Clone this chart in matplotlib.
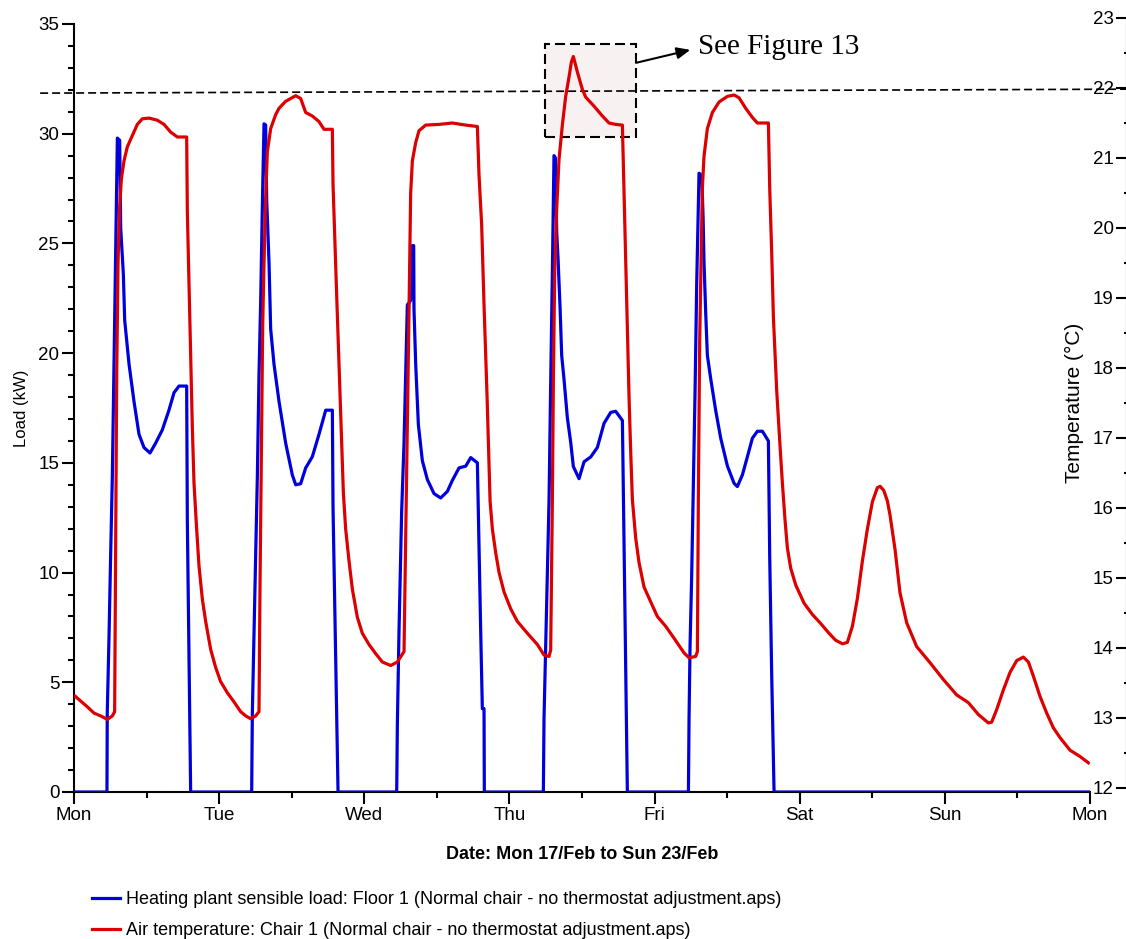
import matplotlib.pyplot as plt
import matplotlib.patches as patches
from matplotlib.ticker import MultipleLocator
import numpy as np

plt.rcParams['font.family'] = ['Liberation Sans', 'DejaVu Sans']

# hours from Monday 00:00
day_ticks = [0, 24, 48, 72, 96, 120, 144, 168]
day_labels = ['Mon', 'Tue', 'Wed', 'Thu', 'Fri', 'Sat', 'Sun', 'Mon']

# Heating plant sensible load (kW), one list per working day
load_mon_h = [0, 5.45, 5.5, 5.8, 6.06, 6.34, 6.61, 6.89, 7.17, 7.55, 7.72, 8.16, 8.38, 9.1, 9.92,
              10.75, 11.57, 12.57, 13.5, 14.6, 15.7, 16.54, 17.36, 18.63, 18.74, 19.02, 19.29]
load_mon = [0, 0, 3.6, 7.2, 10.8, 14.4, 19.5, 24.6, 29.8, 29.7, 25.7, 23.6, 21.5, 19.5, 17.8,
            16.3, 15.7, 15.45, 15.9, 16.5, 17.4, 18.2, 18.5, 18.5, 12.35, 6.2, 0]
load_tue_h = [29.38, 29.49, 29.76, 30.04, 30.32, 30.59, 30.87, 31.14, 31.42, 31.69, 31.86, 32.25,
              32.52, 33.07, 33.9, 35.0, 36.1, 36.66, 37.48, 38.31, 39.41, 40.51, 41.62, 42.72,
              42.83, 43.1, 43.38, 43.66]
load_tue = [0, 3.6, 7.2, 10.8, 14.4, 19.0, 22.4, 26.6, 30.45, 30.4, 27.0, 24.1, 21.1, 19.5, 17.8,
            15.9, 14.45, 14.0, 14.05, 14.77, 15.28, 16.3, 17.4, 17.4, 13.0, 8.7, 4.3, 0]
load_wed_h = [53.36, 53.47, 53.74, 54.18, 54.57, 54.85, 55.12, 55.67, 55.95, 56.17, 56.22, 56.5,
              56.94, 57.6, 58.43, 59.53, 60.63, 61.74, 62.56, 63.67, 64.77, 65.6, 66.7, 66.97,
              67.25, 67.52, 67.8, 67.85]
load_wed = [0, 3.1, 7.3, 12.8, 15.9, 19.05, 22.2, 22.4, 24.9, 24.9, 22.0, 19.5, 16.75, 15.1, 14.24,
            13.6, 13.4, 13.7, 14.2, 14.77, 14.85, 15.24, 15.0, 11.1, 7.3, 3.8, 3.8, 0]
load_thu_h = [77.61, 77.72, 78.0, 78.27, 78.55, 78.82, 79.1, 79.37, 79.6, 79.82, 80.04, 80.37,
              80.64, 81.03, 81.58, 82.13, 82.57, 83.51, 84.34, 85.44, 86.54, 87.64, 88.75, 89.57,
              90.68, 90.95, 91.23, 91.5]
load_thu = [0, 3.35, 6.65, 10.0, 13.3, 18.6, 23.7, 29.0, 28.9, 25.5, 24.3, 22.1, 19.9, 18.8, 17.05,
            15.94, 14.83, 14.28, 15.05, 15.27, 15.7, 16.8, 17.3, 17.35, 16.93, 11.3, 5.8, 0]
load_fri_h = [101.6, 101.7, 101.87, 102.14, 102.36, 102.69, 102.97, 103.35, 103.8, 104.02, 104.18,
              104.46, 104.73, 105.28, 106.11, 106.94, 108.04, 109.14, 109.69, 110.52, 111.35,
              112.17, 113.0, 113.83, 114.82, 115.04, 115.37, 115.76, 168]
load_fri = [0, 3.35, 6.7, 9.9, 13.3, 18.2, 23.2, 28.2, 28.1, 26.2, 24.1, 21.8, 19.9, 18.84, 17.38,
            16.12, 14.86, 14.07, 13.92, 14.45, 15.28, 16.12, 16.44, 16.44, 16.0, 10.7, 5.3, 0, 0]

# Air temperature (deg C)
temp_mon_h = [0.2, 2.2, 3.31, 4.41, 5.51, 6.34, 6.72, 6.89, 7.06, 7.28, 7.55, 7.83, 8.27, 8.82,
              9.65, 10.47, 11.3, 12.4, 13.78, 14.88, 15.98, 17.09, 18.63, 18.74, 19.02, 19.29,
              19.57, 19.84, 20.28, 20.67, 21.22, 21.77, 22.6, 23.43]
temp_mon = [13.31, 13.16, 13.07, 13.03, 12.98, 13.03, 13.09, 15.43, 17.87, 19.51, 20.3, 20.7, 20.96,
            21.16, 21.32, 21.48, 21.56, 21.57, 21.54, 21.48, 21.37, 21.3, 21.3, 20.24, 19.18, 18.2,
            17.14, 16.36, 15.7, 15.17, 14.7, 14.38, 13.98, 13.72]
temp_tue_h = [24.25, 25.36, 26.46, 27.56, 28.39, 29.21, 30.04, 30.59, 30.76, 30.98, 31.2, 31.42,
              31.69, 31.97, 32.52, 33.35, 33.9, 35.0, 36.66, 37.48, 38.31, 39.41, 40.51, 41.34,
              42.72, 42.83, 43.1, 43.38, 43.66, 43.93, 44.26, 44.54, 44.92, 45.48, 46.03, 46.85,
              47.68]
temp_tue = [13.52, 13.36, 13.23, 13.09, 13.03, 12.99, 13.03, 13.09, 14.9, 16.75, 18.6, 19.5, 20.44,
            21.09, 21.42, 21.62, 21.71, 21.81, 21.89, 21.85, 21.65, 21.6, 21.52, 21.41, 21.41,
            20.63, 19.9, 19.18, 18.46, 17.73, 16.94, 16.22, 15.7, 15.24, 14.84, 14.44, 14.21]
temp_wed_h = [48.78, 49.88, 50.99, 52.37, 53.47, 54.57, 54.85, 55.12, 55.4, 55.67, 55.95, 56.5,
              57.05, 58.15, 60.36, 62.56, 64.77, 66.7, 66.97, 67.41, 67.8, 68.3, 68.8, 69.18,
              69.73, 70.28, 71.11]
temp_wed = [14.05, 13.92, 13.8, 13.75, 13.8, 13.95, 15.57, 17.2, 18.85, 20.5, 20.96, 21.22, 21.39,
            21.47, 21.48, 21.5, 21.47, 21.45, 20.76, 20.04, 18.9, 17.6, 16.1, 15.7, 15.36, 15.08,
            14.8]
temp_thu_h = [72.21, 73.31, 74.97, 76.62, 77.72, 78.55, 78.82, 79.1, 79.27, 79.49, 79.82, 80.2,
              80.75, 81.3, 81.86, 82.24, 82.57, 83.23, 84.06, 84.61, 85.99, 87.37, 88.47, 89.57,
              90.68, 90.95, 91.23, 91.5, 91.78, 92.05, 92.33, 92.88, 93.43, 94.26, 95.36]
temp_thu = [14.56, 14.38, 14.21, 14.05, 13.9, 13.88, 13.97, 16.12, 17.86, 19.38, 20.28, 20.98,
            21.47, 21.88, 22.16, 22.37, 22.45, 22.23, 21.98, 21.87, 21.74, 21.6, 21.5, 21.48,
            21.47, 20.5, 19.52, 18.55, 17.58, 16.81, 16.12, 15.57, 15.22, 14.87, 14.66]
temp_fri_h = [96.46, 97.84, 99.22, 100.87, 101.7, 102.8, 103.08, 103.24, 103.46, 103.68, 103.9,
              104.18, 104.73, 105.56, 106.66, 108.04, 109.14, 109.97, 111.07, 112.17, 113.0,
              114.82, 115.04, 115.37, 115.65, 115.92, 116.2, 116.47, 116.75, 117.13, 117.57,
              117.96, 118.51, 119.34]
temp_fri = [14.45, 14.31, 14.14, 13.93, 13.86, 13.88, 13.95, 16.15, 18.39, 19.51, 20.57, 21.03,
            21.42, 21.65, 21.8, 21.88, 21.9, 21.86, 21.71, 21.58, 21.5, 21.5, 20.57, 19.64, 18.72,
            18.19, 17.67, 17.27, 16.88, 16.36, 15.83, 15.43, 15.14, 14.9]
temp_wkend_h = [120.72, 122.09, 123.47, 124.85, 125.95, 127.06, 127.88, 128.71, 129.54, 130.36,
                131.19, 132.02, 132.84, 133.3, 133.9, 134.5, 134.93, 135.76, 136.58, 137.69,
                139.34, 141.55, 143.75, 145.95, 147.88, 149.54, 151.19, 151.74, 152.57, 153.67,
                154.77, 155.88, 156.98, 157.81, 158.63, 159.73, 160.84, 161.94, 163.04, 164.7,
                166.35, 167.73]
temp_wkend = [14.64, 14.48, 14.35, 14.21, 14.11, 14.06, 14.08, 14.31, 14.71, 15.24, 15.7, 16.09,
              16.29, 16.31, 16.25, 16.1, 15.9, 15.41, 14.79, 14.36, 14.02, 13.79, 13.55, 13.33,
              13.22, 13.05, 12.93, 12.94, 13.12, 13.4, 13.65, 13.82, 13.87, 13.8, 13.6, 13.31,
              13.07, 12.86, 12.72, 12.54, 12.45, 12.36]

load_h = load_mon_h + load_tue_h + load_wed_h + load_thu_h + load_fri_h
load_kw = load_mon + load_tue + load_wed + load_thu + load_fri
temp_h = temp_mon_h + temp_tue_h + temp_wed_h + temp_thu_h + temp_fri_h + temp_wkend_h
temp_c = temp_mon + temp_tue + temp_wed + temp_thu + temp_fri + temp_wkend

# annotation (load axis units)
setpoint_x = [-5.6, 174.0]
setpoint_y = [31.85, 32.03]
box_x, box_y, box_w, box_h = 77.88, 29.85, 15.05, 4.24

blue = '#0000dc'
red = '#dc0000'

fig = plt.figure(figsize=(11.26, 9.39), dpi=100)
ax = fig.add_axes([74/1126, 147/939, 1016/1126, 768/939])
ax2 = fig.add_axes([74/1126, 151/939, 1016/1126, 770/939])

ax.set_xlim(0, 168)
ax.set_ylim(0, 35)
ax2.set_xlim(0, 168)
ax2.set_ylim(12, 23)

ax.add_patch(patches.Rectangle((box_x, box_y), box_w, box_h, facecolor='#f8f1f1',
                               edgecolor='black', ls=(0, (4.8, 2.4)), lw=1.5, zorder=1))
ax.plot(setpoint_x, setpoint_y, color='black', ls=(0, (4.8, 2.4)), lw=1.2, clip_on=False, zorder=2)

l1, = ax.plot(load_h, load_kw, color=blue, lw=2.3, zorder=3,
              label='Heating plant sensible load: Floor 1 (Normal chair - no thermostat adjustment.aps)')
l2, = ax2.plot(temp_h, temp_c, color=red, lw=2.3,
               label='Air temperature: Chair 1 (Normal chair - no thermostat adjustment.aps)')

ax.annotate('', xy=(101.9, 33.82), xytext=(92.93, 33.23), annotation_clip=False,
            arrowprops=dict(arrowstyle='-|>,head_length=0.8,head_width=0.35', color='black',
                            lw=1.5, shrinkA=0, shrinkB=0))
ax.text(103.2, 33.96, 'See Figure 13', fontsize=21, family='Liberation Serif',
        va='center', ha='left')

# main axis styling
ax.spines['top'].set_visible(False)
ax.spines['right'].set_visible(False)
ax.spines['left'].set_linewidth(1.5)
ax.spines['bottom'].set_linewidth(1.5)
ax.set_xticks(day_ticks)
ax.set_xticklabels(day_labels)
ax.xaxis.set_minor_locator(MultipleLocator(12))
ax.yaxis.set_major_locator(MultipleLocator(5))
ax.yaxis.set_minor_locator(MultipleLocator(1))
ax.tick_params(which='major', length=8.6, width=1.5, labelsize=13.5, pad=2)
ax.tick_params(which='minor', length=4.3, width=1.5)
ax.set_ylabel('Load (kW)', fontsize=12, labelpad=7)
ax.set_xlabel('Date: Mon 17/Feb to Sun 23/Feb', fontsize=13, fontweight='bold', labelpad=16)

# temperature axis, drawn at the right edge with ticks facing left
ax2.patch.set_visible(False)
for s in ['top', 'right', 'bottom']:
    ax2.spines[s].set_visible(False)
ax2.spines['left'].set_position(('axes', 1053/1016))
ax2.spines['left'].set_linewidth(1.5)
ax2.xaxis.set_visible(False)
ax2.yaxis.set_major_locator(MultipleLocator(1))
ax2.yaxis.set_minor_locator(MultipleLocator(0.5))
ax2.tick_params(axis='y', which='major', length=8, width=1.5, labelsize=13.5, pad=1.5)
ax2.tick_params(axis='y', which='minor', length=2, width=1.5)
ax2.set_ylabel('Temperature (°C)', fontsize=15, labelpad=6)

fig.legend(handles=[l1, l2], loc='upper left', bbox_to_anchor=(92/1126, 1 - 891/939),
           frameon=False, fontsize=13, handlelength=1.55, handletextpad=0.35,
           labelspacing=0.8, borderpad=0, borderaxespad=0)

fig.savefig('out.png', dpi=100)
